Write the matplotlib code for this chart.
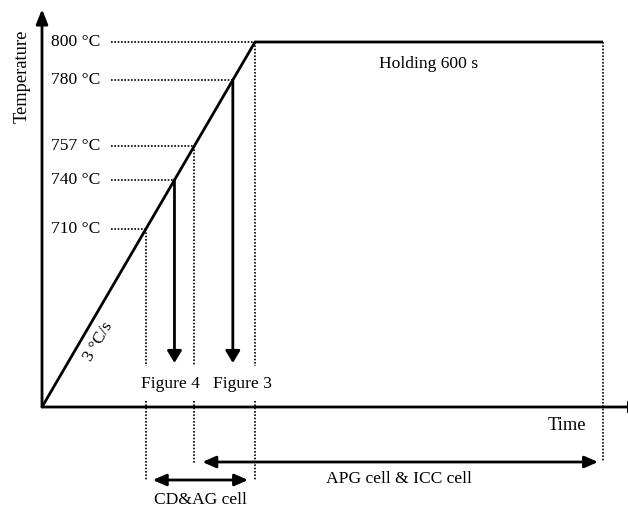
import numpy as np
import matplotlib
matplotlib.use("Agg")
import matplotlib.pyplot as plt
from matplotlib.transforms import blended_transform_factory

plt.rcParams["font.family"] = ["Liberation Serif", "DejaVu Serif"]

# ---- process data -------------------------------------------------------
T_START = 25            # starting (room) temperature, °C
HEAT_RATE = 3           # °C/s
T_PEAK = 800            # holding temperature, °C
HOLD_TIME = 600         # s
T_MARKS = [710, 740, 757, 780, 800]          # marked temperatures on the ramp
QUENCH_TEMPS = [740, 780]                    # interrupted-heating samples
QUENCH_LABELS = ["Figure 4", "Figure 3"]
CDAG_RANGE = (710, 800)                      # CD&AG cell window (°C)
APG_START = 757                              # APG/ICC cell window start (°C)

# schematic (non-linear) height of each temperature on the drawing
SCHEME_T = [T_START, 710, 740, 757, 780, 800]
SCHEME_H = [0, 178, 227, 261, 327, 365]

t_peak = (T_PEAK - T_START) / HEAT_RATE
t_end = t_peak + HOLD_TIME


def ramp_time(T):
    return (T - T_START) / HEAT_RATE


# ---- schematic axis scales ---------------------------------------------
def _extend(xk, yk, pad=1e4):
    xk = np.asarray(xk, float)
    yk = np.asarray(yk, float)
    s0 = (yk[1] - yk[0]) / (xk[1] - xk[0])
    s1 = (yk[-1] - yk[-2]) / (xk[-1] - xk[-2])
    xk = np.concatenate([[xk[0] - pad], xk, [xk[-1] + pad]])
    yk = np.concatenate([[yk[0] - pad * s0], yk, [yk[-1] + pad * s1]])
    return xk, yk


yk_T, yk_H = _extend(SCHEME_T, SCHEME_H)
ramp_px = 213.0 / 365.0
xk_t, xk_X = _extend([ramp_time(T) for T in SCHEME_T] + [t_end],
                     [h * ramp_px for h in SCHEME_H] + [561])


def y_fwd(v):
    return np.interp(v, yk_T, yk_H)


def y_inv(v):
    return np.interp(v, yk_H, yk_T)


def x_fwd(v):
    return np.interp(v, xk_t, xk_X)


def x_inv(v):
    return np.interp(v, xk_X, xk_t)


W, H = 628, 512
fig = plt.figure(figsize=(W / 100, H / 100), dpi=100)
ax = fig.add_axes([0, 0, 1, 1])
ax.set_xscale("function", functions=(x_fwd, x_inv))
ax.set_yscale("function", functions=(y_fwd, y_inv))
ax.set_xlim(x_inv(-42), x_inv(W - 42))
ax.set_ylim(y_inv(-(H - 407)), y_inv(407))
ax.axis("off")

LW = 2.0
DOT = dict(color="black", lw=1.2, linestyle=(0, (1, 1.0)))
FS = 12.6
x_axes_y_data = blended_transform_factory(ax.transAxes, ax.transData)
x_data_y_axes = blended_transform_factory(ax.transData, ax.transAxes)


def to_axes(x, y):
    return ax.transAxes.inverted().transform(ax.transData.transform((x, y)))


# ---- coordinate axes ----------------------------------------------------
ax.annotate("", xy=(0, 0.982), xycoords=("data", "axes fraction"),
            xytext=(0, T_START), textcoords="data",
            arrowprops=dict(arrowstyle="-|>,head_length=0.55,head_width=0.22",
                            mutation_scale=16, lw=LW, color="black",
                            shrinkA=0, shrinkB=0))
ax.annotate("", xy=(1.026, T_START), xycoords=("axes fraction", "data"),
            xytext=(0, T_START), textcoords="data",
            arrowprops=dict(arrowstyle="-|>,head_length=0.55,head_width=0.22",
                            mutation_scale=16, lw=LW, color="black",
                            shrinkA=0, shrinkB=0))
ax.text(22 / W, 1 - 76 / H, "Temperature", rotation=90, ha="center",
        va="center", fontsize=13.3, transform=ax.transAxes)
ax.text(567 / W, 1 - 425 / H, "Time", ha="center", va="center",
        fontsize=13.3, transform=ax.transAxes)

# ---- heating ramp and isothermal hold ----------------------------------
ax.plot([0, t_peak, t_end], [T_START, T_PEAK, T_PEAK], color="black",
        lw=LW, solid_joinstyle="miter", solid_capstyle="butt")
ax.text(98 / W, 1 - 342 / H, f"{HEAT_RATE} °C/s", rotation=59.5,
        ha="center", va="center", fontsize=12.3, transform=ax.transAxes)
ax.annotate(f"Holding {HOLD_TIME} s", xy=((t_peak + t_end) / 2, T_PEAK),
            xytext=(0, -15.5), textcoords="offset points", ha="center",
            va="center", fontsize=FS)

# ---- marked temperatures -----------------------------------------------
for T in T_MARKS:
    tx = ramp_time(T)
    xa, _ = to_axes(tx, T)
    ax.plot([111 / W, xa], [T, T], transform=x_axes_y_data, **DOT)
    ax.text(100 / W, T, f"{T} °C", ha="right", va="center", fontsize=FS,
            transform=x_axes_y_data)

# dotted guides for the cell windows
GUIDE_TEMPS = [CDAG_RANGE[0], APG_START, CDAG_RANGE[1]]
GUIDE_BOTTOM = {CDAG_RANGE[0]: 480, APG_START: 463, CDAG_RANGE[1]: 480}
for T in GUIDE_TEMPS:
    tx = ramp_time(T)
    _, ya = to_axes(tx, T)
    ax.plot([tx, tx], [ya, 1 - 366 / H], transform=x_data_y_axes, **DOT)
    ax.plot([tx, tx], [1 - 401 / H, 1 - GUIDE_BOTTOM[T] / H],
            transform=x_data_y_axes, **DOT)
_, ya = to_axes(t_end, T_PEAK)
ax.plot([t_end, t_end], [ya, 1 - 461 / H], transform=x_data_y_axes, **DOT)

# ---- interrupted heating (quench) arrows -------------------------------
label_shift = {"Figure 4": -3, "Figure 3": 7}
for T, lab in zip(QUENCH_TEMPS, QUENCH_LABELS):
    tx = ramp_time(T)
    ax.annotate("", xy=(tx, 1 - 363 / H), xycoords=x_data_y_axes,
                xytext=(tx, T), textcoords="data",
                arrowprops=dict(arrowstyle="-|>,head_length=0.45,head_width=0.27",
                                mutation_scale=16, lw=LW, color="black",
                                shrinkA=0, shrinkB=0))
    ax.annotate(lab, xy=(tx, 1 - 384 / H), xycoords=x_data_y_axes,
                xytext=(label_shift[lab], 0), textcoords="offset points",
                ha="center", va="center", fontsize=FS)

# ---- cell windows -------------------------------------------------------
DBL = dict(arrowstyle="<|-|>,head_length=0.5,head_width=0.22",
           mutation_scale=16, lw=LW, color="black")
t0, t1 = ramp_time(CDAG_RANGE[0]), ramp_time(CDAG_RANGE[1])
ax.annotate("", xy=(t1, 1 - 480 / H), xycoords=x_data_y_axes,
            xytext=(t0, 1 - 480 / H), textcoords=x_data_y_axes,
            arrowprops=dict(DBL, shrinkA=5, shrinkB=5))
ax.text(0.5 * (to_axes(t0, T_START)[0] + to_axes(t1, T_START)[0]),
        1 - 500 / H, "CD&AG cell", ha="center", va="center", fontsize=FS,
        transform=ax.transAxes)

ta = ramp_time(APG_START)
ax.annotate("", xy=(t_end, 1 - 462 / H), xycoords=x_data_y_axes,
            xytext=(ta, 1 - 462 / H), textcoords=x_data_y_axes,
            arrowprops=dict(DBL, shrinkA=5.8, shrinkB=3.6))
ax.text(0.5 * (to_axes(ta, T_START)[0] + to_axes(t_end, T_START)[0]),
        1 - 479 / H, "APG cell & ICC cell", ha="center", va="center",
        fontsize=FS, transform=ax.transAxes)

fig.savefig("out.png", dpi=100)
